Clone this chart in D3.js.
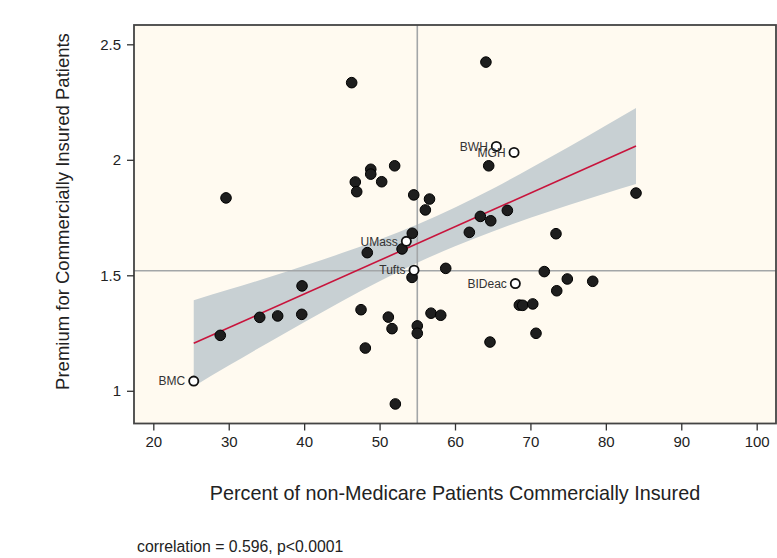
<!DOCTYPE html>
<html>
<head>
<meta charset="utf-8">
<script src="https://cdn.jsdelivr.net/npm/d3@7"></script>
<style>
  html, body { margin: 0; padding: 0; background: #ffffff; }
  svg { display: block; font-family: "Liberation Sans", Arial, sans-serif; }
</style>
</head>
<body>
<svg id="chart" width="777" height="558"></svg>
<script>
// ---- data ----
const ptX = [64.1, 46.3, 64.47, 29.64, 46.78, 46.97, 48.83, 48.83, 50.28, 52.0,
             54.53, 56.62, 56.07, 84.0, 63.36, 64.74, 66.94, 54.34, 52.98, 48.37,
             61.9, 73.39, 54.3, 58.77, 71.84, 74.89, 78.26, 73.49, 39.72, 34.11,
             36.49, 39.68, 47.54, 51.16, 51.65, 55.0, 55.0, 56.82, 58.11, 68.53,
             68.98, 70.31, 70.74, 28.88, 48.11, 64.64, 52.09];
const ptY = [2.423, 2.334, 1.974, 1.835, 1.904, 1.862, 1.959, 1.938, 1.905, 1.974,
             1.848, 1.83, 1.783, 1.856, 1.755, 1.736, 1.781, 1.682, 1.614, 1.598,
             1.686, 1.68, 1.491, 1.53, 1.516, 1.484, 1.474, 1.433, 1.454, 1.318,
             1.324, 1.331, 1.351, 1.319, 1.269, 1.281, 1.249, 1.336, 1.327, 1.371,
             1.37, 1.376, 1.249, 1.24, 1.185, 1.211, 0.943];

const hospNames = ["BWH", "MGH", "UMass", "Tufts", "BIDeac", "BMC"];
const hospX = [65.48, 67.83, 53.55, 54.57, 68.0, 25.36];
const hospY = [2.058, 2.032, 1.647, 1.522, 1.464, 1.042];

const refX = [55.0];
const refY = [1.52];

const fitX = [25.36, 84.0];
const fitY = [1.2056, 2.0597];

const bandX  = [25.36, 30, 35, 40, 45, 50, 55, 60, 65, 70, 75, 80, 84];
const bandLo = [1.019, 1.109, 1.204, 1.297, 1.388, 1.474, 1.554, 1.626, 1.690, 1.749, 1.803, 1.855, 1.895];
const bandHi = [1.392, 1.438, 1.488, 1.541, 1.596, 1.655, 1.720, 1.794, 1.875, 1.963, 2.054, 2.148, 2.224];

const xTicks = [20, 30, 40, 50, 60, 70, 80, 90, 100];
const yTicks = [1, 1.5, 2, 2.5];
const yTickLabels = ["1", "1.5", "2", "2.5"];

const xTitle = "Percent of non-Medicare Patients Commercially Insured";
const yTitle = "Premium for Commercially Insured Patients";
const note = "correlation = 0.596, p<0.0001";

// ---- layout ----
const svg = d3.select("#chart");
const L = 134, R = 776, T = 25, B = 423.5;

const x = d3.scaleLinear().domain([17.44, 102.56]).range([L, R]);
const y = d3.scaleLinear().domain([0.8584, 2.5836]).range([B, T]);

// plot background
svg.append("rect")
  .attr("x", L).attr("y", T).attr("width", R - L).attr("height", B - T)
  .attr("fill", "#fffaf0");

// confidence band
const bandData = bandX.map((d, i) => ({ x: d, lo: bandLo[i], hi: bandHi[i] }));
svg.append("path")
  .datum(bandData)
  .attr("fill", "#c8d0d3")
  .attr("d", d3.area().x(d => x(d.x)).y0(d => y(d.lo)).y1(d => y(d.hi)).curve(d3.curveMonotoneX));

// reference lines
svg.append("g").selectAll("line.rx").data(refX).join("line")
  .attr("x1", d => x(d)).attr("x2", d => x(d))
  .attr("y1", T).attr("y2", B)
  .attr("stroke", "#a3a6a8").attr("stroke-width", 1.6);
svg.append("g").selectAll("line.ry").data(refY).join("line")
  .attr("x1", L).attr("x2", R)
  .attr("y1", d => y(d)).attr("y2", d => y(d))
  .attr("stroke", "#a3a6a8").attr("stroke-width", 1.6);

// fit line
svg.append("path")
  .datum(fitX.map((d, i) => [d, fitY[i]]))
  .attr("fill", "none")
  .attr("stroke", "#c8143c")
  .attr("stroke-width", 1.6)
  .attr("d", d3.line().x(d => x(d[0])).y(d => y(d[1])));

// filled points
svg.append("g").selectAll("circle").data(ptX.map((d, i) => [d, ptY[i]])).join("circle")
  .attr("cx", d => x(d[0])).attr("cy", d => y(d[1]))
  .attr("r", 5.3)
  .attr("fill", "#1e1e1e")
  .attr("stroke", "#000")
  .attr("stroke-width", 1);

// labelled hospitals
const hosp = hospNames.map((n, i) => ({ n, x: hospX[i], y: hospY[i] }));
const hg = svg.append("g");
hg.selectAll("circle").data(hosp).join("circle")
  .attr("cx", d => x(d.x)).attr("cy", d => y(d.y))
  .attr("r", 4.6)
  .attr("fill", "#ffffff")
  .attr("stroke", "#111")
  .attr("stroke-width", 1.8);
hg.selectAll("text").data(hosp).join("text")
  .attr("x", d => x(d.x) - 8.5).attr("y", d => y(d.y))
  .attr("dy", "0.35em")
  .attr("text-anchor", "end")
  .attr("font-size", 12)
  .attr("fill", "#333")
  .text(d => d.n);

// frame
svg.append("rect")
  .attr("x", L).attr("y", T).attr("width", R - L).attr("height", B - T)
  .attr("fill", "none").attr("stroke", "#444").attr("stroke-width", 1.8);

// axes
const xAxis = svg.append("g").attr("transform", `translate(0,${B})`)
  .call(d3.axisBottom(x).tickValues(xTicks).tickSize(7).tickPadding(6).tickFormat(d3.format("d")));
xAxis.select(".domain").remove();
xAxis.selectAll("line").attr("stroke", "#333").attr("stroke-width", 1.3);
xAxis.selectAll("text").attr("font-size", 15).attr("fill", "#222")
  .attr("font-family", "'Liberation Sans', Arial, sans-serif");

const yAxis = svg.append("g").attr("transform", `translate(${L},0)`)
  .call(d3.axisLeft(y).tickValues(yTicks).tickSize(7).tickPadding(6)
    .tickFormat((d, i) => yTickLabels[i]));
yAxis.select(".domain").remove();
yAxis.selectAll("line").attr("stroke", "#333").attr("stroke-width", 1.3);
yAxis.selectAll("text").attr("font-size", 15).attr("fill", "#222")
  .attr("font-family", "'Liberation Sans', Arial, sans-serif");

// titles
svg.append("text")
  .attr("x", 455).attr("y", 500)
  .attr("text-anchor", "middle")
  .attr("font-size", 19.8)
  .attr("fill", "#222")
  .text(xTitle);

svg.append("text")
  .attr("transform", "translate(69,211.5) rotate(-90)")
  .attr("text-anchor", "middle")
  .attr("font-size", 18.5)
  .attr("fill", "#222")
  .text(yTitle);

svg.append("text")
  .attr("x", 137).attr("y", 552)
  .attr("font-size", 15.8)
  .attr("fill", "#222")
  .text(note);
</script>
</body>
</html>
